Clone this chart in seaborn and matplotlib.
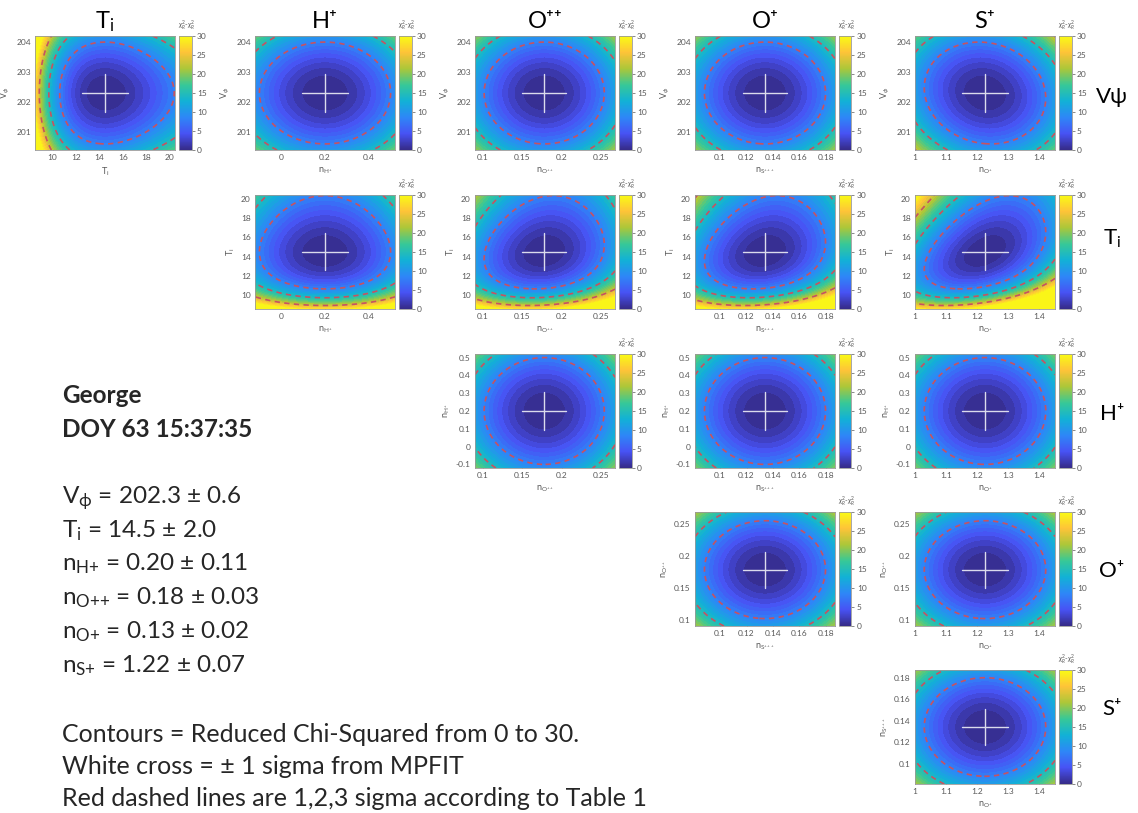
import numpy as np
import pandas as pd
import matplotlib
matplotlib.use("Agg")
import matplotlib.pyplot as plt
import seaborn as sns
from matplotlib.colors import LinearSegmentedColormap, Normalize
from matplotlib.cm import ScalarMappable
from matplotlib.ticker import FuncFormatter

# ---------------- data ----------------
params = ["V", "Ti", "nH", "nO2", "nS3", "nO1"]
best_fit = [202.3, 14.5, 0.200, 0.178, 0.134, 1.225]
cross_sigma = [0.62, 1.95, 0.104, 0.028, 0.017, 0.073]
# chi-square bowl half-widths below / above the minimum and their skew powers
surf_width_low = [0.60, 1.79, 0.106, 0.027, 0.0162, 0.069]
surf_width_high = [0.60, 1.66, 0.106, 0.027, 0.0162, 0.069]
surf_power_low = [1.0, -0.7, 1.0, 1.0, 1.0, 1.0]
surf_power_high = [1.0, -0.3, 1.0, 1.0, 1.0, 1.0]
axis_lo = [200.4, 8.5, -0.12, 0.090, 0.081, 1.0]
axis_hi = [204.2, 20.45, 0.52, 0.268, 0.187, 1.45]
x_ticks = {
    "Ti": [10, 12, 14, 16, 18, 20],
    "nH": [0, 0.2, 0.4],
    "nO2": [0.1, 0.15, 0.2, 0.25],
    "nS3": [0.1, 0.12, 0.14, 0.16, 0.18],
    "nO1": [1, 1.1, 1.2, 1.3, 1.4],
}
y_ticks = {
    "V": [201, 202, 203, 204],
    "Ti": [10, 12, 14, 16, 18, 20],
    "nH": [-0.1, 0, 0.1, 0.2, 0.3, 0.4, 0.5],
    "nO2": [0.1, 0.15, 0.2, 0.25],
    "nS3": [0.1, 0.12, 0.14, 0.16, 0.18],
}
panel_rho = {("V", "nO1"): -0.1, ("Ti", "nO2"): 0.15,
             ("Ti", "nS3"): 0.2, ("Ti", "nO1"): 0.4}
sigma_levels = [8.0, 14.3, 22.6]
chi_max = 30
cbar_ticks = [0, 5, 10, 15, 20, 25, 30]

col_titles = [r"T$_{\mathrm{i}}$", "H⁺", "O⁺⁺", "O⁺", "S⁺"]
row_titles = ["Vψ", r"T$_{\mathrm{i}}$", "H⁺", "O⁺", "S⁺"]
x_labels = [r"T$_\mathrm{i}$", r"n$_{\mathrm{H^+}}$", r"n$_{\mathrm{O^{++}}}$",
            r"n$_{\mathrm{S^{+++}}}$", r"n$_{\mathrm{O^{+}}}$"]
y_labels = [r"V$_{\phi}$", r"T$_\mathrm{i}$", r"n$_{\mathrm{H^+}}$",
            r"n$_{\mathrm{O^{++}}}$", r"n$_{\mathrm{S^{+++}}}$"]

header_lines = ["George", "DOY 63 15:37:35"]
value_names = [r"V$_{\mathrm{ϕ}}$", r"T$_{\mathrm{i}}$", r"n$_{\mathrm{H}{+}}$",
               r"n$_{\mathrm{O}{+}{+}}$", r"n$_{\mathrm{O}{+}}$", r"n$_{\mathrm{S}{+}}$"]
value_best = ["202.3", "14.5", "0.20", "0.18", "0.13", "1.22"]
value_err = ["0.6", "2.0", "0.11", "0.03", "0.02", "0.07"]
note_lines = ["Contours = Reduced Chi-Squared from 0 to 30.",
              "White cross = ± 1 sigma from MPFIT",
              "Red dashed lines are 1,2,3 sigma according to Table 1"]

# ---------------- style ----------------
sns.set_theme(style="white")
plt.rcParams["font.family"] = ["Lato", "DejaVu Sans"]
plt.rcParams["mathtext.fontset"] = "custom"
plt.rcParams["mathtext.rm"] = "Lato"
plt.rcParams["mathtext.it"] = "Lato:italic"
plt.rcParams["mathtext.bf"] = "Lato:bold"
plt.rcParams["mathtext.fallback"] = "stixsans"

parula = LinearSegmentedColormap.from_list("parula", [
    (0.2081, 0.1663, 0.5292), (0.2810, 0.3228, 0.9579), (0.1786, 0.5289, 0.9682),
    (0.0689, 0.6948, 0.8394), (0.2161, 0.7843, 0.5923), (0.6720, 0.7793, 0.2227),
    (0.9970, 0.7659, 0.2199), (0.9769, 0.9839, 0.0805)])

W, H = 1138, 813
fig = plt.figure(figsize=(W / 100, H / 100), dpi=100)


def px(x, y, w, h):
    return [x / W, 1 - (y + h) / H, w / W, h / H]


def side_coord(v, c, p, w):
    if p == 1.0:
        return (v - c) / w
    return (v ** p - c ** p) / (p * c ** (p - 1) * w)


def ncoord(v, i):
    c = best_fit[i]
    lo = side_coord(v, c, surf_power_low[i], surf_width_low[i])
    hi = side_coord(v, c, surf_power_high[i], surf_width_high[i])
    return np.where(v < c, lo, hi)


col_left = [35, 255, 475, 695, 915]
row_top = [36, 195, 354, 512, 670]
pw, ph = 140, 114
fmt = FuncFormatter(lambda v, _: f"{v:g}")
norm = Normalize(0, chi_max)
gray = "0.35"

for r in range(5):
    for c in range(5):
        if c < r:
            continue
        iy, ix = r, c + 1
        ax = fig.add_axes(px(col_left[c], row_top[r], pw, ph))
        xs = np.linspace(axis_lo[ix], axis_hi[ix], 220)
        ys = np.linspace(axis_lo[iy], axis_hi[iy], 220)
        X, Y = np.meshgrid(xs, ys)
        ux, uy = ncoord(X, ix), ncoord(Y, iy)
        rho = panel_rho.get((params[iy], params[ix]), 0.0)
        chi = (ux ** 2 - 2 * rho * ux * uy + uy ** 2) / (1 - rho ** 2)
        ax.contourf(X, Y, np.minimum(chi, chi_max - 1e-6),
                    levels=np.linspace(0, chi_max, 31), cmap=parula, norm=norm)
        ax.contour(X, Y, chi, levels=sigma_levels, colors=[(0.78, 0.32, 0.38)],
                   linewidths=1.2, linestyles=[(0, (3.2, 2.6))])
        cx, cy = best_fit[ix], best_fit[iy]
        sx, sy = cross_sigma[ix], cross_sigma[iy]
        cross = pd.DataFrame({"x": [cx - sx, cx + sx, cx, cx],
                              "y": [cy, cy, cy - sy, cy + sy],
                              "seg": [0, 0, 1, 1]})
        sns.lineplot(data=cross, x="x", y="y", units="seg", estimator=None,
                     sort=False, color=(0.86, 0.86, 0.93), lw=1.0, ax=ax)
        ax.set_xlim(axis_lo[ix], axis_hi[ix])
        ax.set_ylim(axis_lo[iy], axis_hi[iy])
        ax.set_xticks(x_ticks[params[ix]])
        ax.set_yticks(y_ticks[params[iy]])
        ax.xaxis.set_major_formatter(fmt)
        ax.yaxis.set_major_formatter(fmt)
        ax.tick_params(direction="in", length=2, width=0.5, labelsize=6,
                       colors=gray, pad=3, bottom=True, left=True)
        for sp in ax.spines.values():
            sp.set_color("0.6")
            sp.set_linewidth(0.6)
        ax.set_xlabel(x_labels[c], fontsize=6.5, color=gray, labelpad=3)
        ax.set_ylabel(y_labels[r], fontsize=6.5, color=gray, labelpad=3)

        cax = fig.add_axes(px(col_left[c] + 144, row_top[r], 12.5, ph))
        cb = fig.colorbar(ScalarMappable(norm=norm, cmap=parula), cax=cax,
                          ticks=cbar_ticks)
        cb.outline.set_edgecolor("0.6")
        cb.outline.set_linewidth(0.6)
        cax.tick_params(labelsize=6, colors=gray, length=2, width=0.5, pad=2)
        fig.text((col_left[c] + 152) / W, 1 - (row_top[r] - 4) / H,
                 r"$\chi^2_R$-$\chi^2_R$", fontsize=5, color=gray,
                 ha="center", va="bottom")

# column titles
for c in range(5):
    fig.text((col_left[c] + pw / 2) / W, 1 - 28 / H, col_titles[c],
             fontsize=17, ha="center", va="baseline", color="black")

# row titles
row_base = [103, 245, 420, 577, 715]
for r in range(5):
    fig.text(1112 / W, 1 - row_base[r] / H, row_titles[r], fontsize=16,
             ha="center", va="baseline", color="black")

# text block
tx = 62 / W
fs_head = 17.5
fig.text(tx, 1 - 403 / H, header_lines[0], fontsize=fs_head, fontweight="bold",
         va="baseline")
fig.text(tx, 1 - 437 / H, header_lines[1], fontsize=fs_head, fontweight="bold",
         va="baseline")
val_base = [503, 537, 570, 604, 638, 672]
for i in range(6):
    fig.text(tx, 1 - val_base[i] / H,
             f"{value_names[i]} = {value_best[i]} ± {value_err[i]}",
             fontsize=fs_head, va="baseline")
note_base = [742, 774, 806]
for i in range(3):
    fig.text(tx, 1 - note_base[i] / H, note_lines[i], fontsize=18,
             va="baseline")

fig.savefig("out.png", dpi=100)
